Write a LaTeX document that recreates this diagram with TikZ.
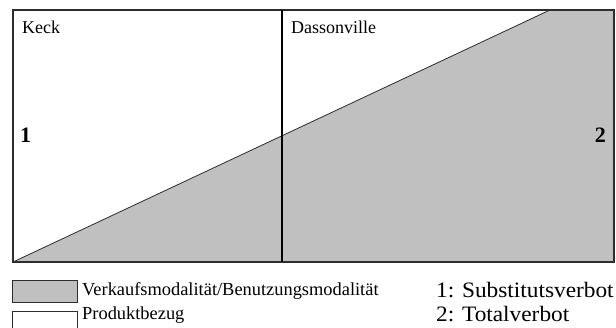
\documentclass[tikz,border=0pt]{standalone}
\usepackage{fontspec}
\setmainfont{Liberation Serif}
\newfontfamily\widefont[FakeStretch=1.06]{Liberation Serif}
\usepackage{tikz}
\usetikzlibrary{positioning}
\definecolor{modal}{RGB}{192,192,192}
\definecolor{frame}{RGB}{45,45,45}

\begin{document}
\begin{tikzpicture}[x=1pt,y=-1pt,
   lbl/.style={anchor=base west,inner sep=0pt,font=\fontsize{18}{20}\selectfont},
   big/.style={anchor=base west,inner sep=0pt,font=\widefont\fontsize{22}{24}\selectfont},
   num/.style={inner sep=0pt,font=\fontsize{22}{24}\selectfont\bfseries},
   key/.style={draw=frame,line width=1pt,minimum width=65pt,minimum height=22pt,inner sep=0pt}]
  \useasboundingbox (0,0) rectangle (616,328);
  % corners of the field
  \coordinate (sw) at (13,262);
  \coordinate (nw) at (13,10);
  \coordinate (ne) at (614,10);
  \coordinate (se) at (614,262);
  \coordinate (top) at (550,10);
  \coordinate (mtop) at (282,10);
  \coordinate (mbot) at (282,262);
  \fill[modal] (sw) -- (top) -- (ne) -- (se) -- cycle;
  \draw[frame,line width=1.2pt] (nw) rectangle (se);
  \draw[frame,line width=0.8pt] (sw) -- (top);
  \draw[black,line width=1.6pt] (mtop) -- (mbot);
  \node[lbl] (keck) at (22,33.5) {Keck};
  \node[lbl] (dass) at (291,33.5) {Dassonville};
  \node[num,anchor=west] (one) at (20,135) {1};
  \node[num,anchor=east] (two) at (606,135) {2};
  % legend
  \node[key,fill=modal,anchor=north west] (keyvb) at (12,280) {};
  \node[key,fill=white,below=8pt of keyvb] (keypb) {};
  \node[lbl,font=\fontsize{18.4}{20}\selectfont] (vb) at (82,296) {Verkaufsmodalität/Benutzungsmodalität};
  \node[lbl,font=\fontsize{18.4}{20}\selectfont] (pb) at (82,320) {Produktbezug};
  \node[big] (sv) at (436,298) {1: Substitutsverbot};
  \node[big] (tv) at (436,322) {2: Totalverbot};
\end{tikzpicture}
\end{document}
